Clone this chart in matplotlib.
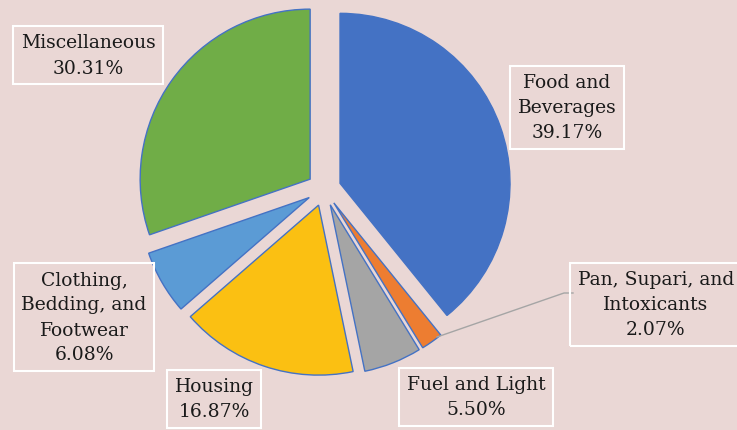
import matplotlib
matplotlib.use("Agg")
import matplotlib.pyplot as plt

categories = ["Food and\nBeverages", "Pan, Supari, and\nIntoxicants", "Fuel and Light",
              "Housing", "Clothing,\nBedding, and\nFootwear", "Miscellaneous"]
values = [39.17, 2.07, 5.50, 16.87, 6.08, 30.31]
colors = ["#4472C4", "#ED7D31", "#A5A5A5", "#FBC012", "#5B9BD5", "#70AD47"]

W, H = 737, 431
bg = "#EAD7D5"
fig = plt.figure(figsize=(W / 100, H / 100), dpi=100, facecolor=bg)
ax = fig.add_axes([0, 0, 1, 1])
ax.set_facecolor(bg)

R = 170
EXPL = 17
wedges, _ = ax.pie(values, colors=colors, startangle=90, counterclock=False,
                   center=(324, H - 190), radius=R, explode=[EXPL] * len(values),
                   wedgeprops=dict(edgecolor="#4472C4", linewidth=1.0),
                   frame=True)
ax.set_xlim(0, W)
ax.set_ylim(0, H)
ax.axis("off")

label_pos = [(567, 108), (656, 305), (476, 398), (214, 400), (84, 318), (88, 56)]
for cat, v, (x, y) in zip(categories, values, label_pos):
    ax.text(x, H - y, f"{cat}\n{v:.2f}%", ha="center", va="center",
            family="DejaVu Serif", fontsize=13.5, color="#1a1a1a", linespacing=1.5,
            bbox=dict(boxstyle="square,pad=0.4", facecolor="none",
                      edgecolor="white", linewidth=1.5))

# leader line for small slice
ax.plot([573, 564, 437], [H - 294, H - 294, H - 338], color="#A5A5A5", linewidth=1)

fig.savefig("out.png", dpi=100, facecolor=bg)
